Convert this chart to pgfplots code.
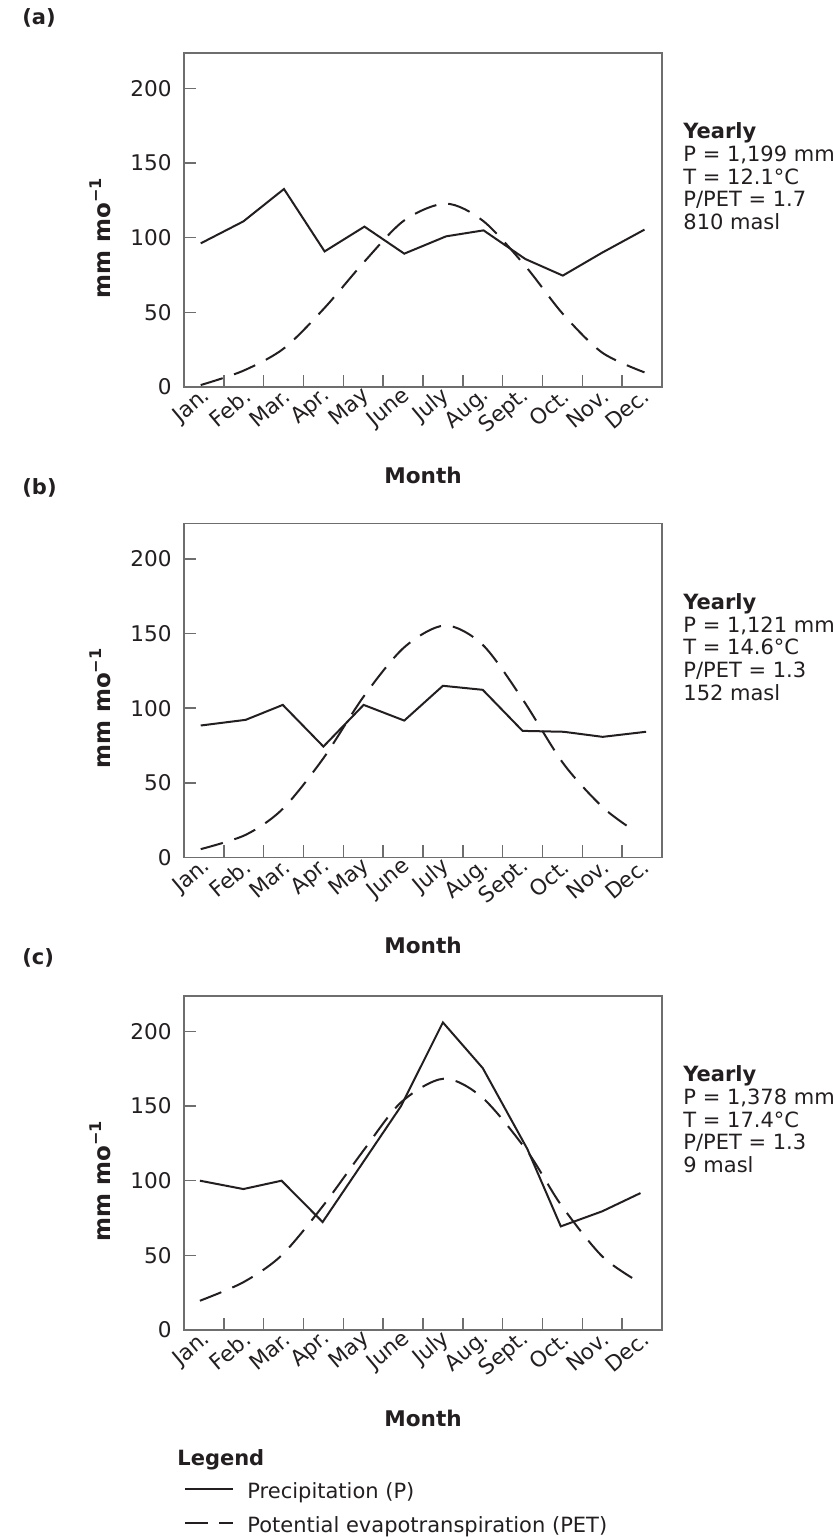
\documentclass[border=0pt]{standalone}
\usepackage{fontspec}
\setmainfont{DejaVu Sans}
\usepackage{pgfplots}
\pgfplotsset{compat=1.18}
\definecolor{ink}{HTML}{231F20}
\definecolor{frame}{HTML}{6E6E6E}

\newcommand{\txt}{\fontsize{10.5}{11.35}\selectfont}

\pgfplotsset{
  panel/.style={
    scale only axis, width=239pt, height=167pt,
    anchor=south west, clip mode=individual,
    xmin=0, xmax=12, ymin=0, ymax=223.7,
    xtick={0.5,1.5,2.5,3.5,4.5,5.5,6.5,7.5,8.5,9.5,10.5,11.5},
    xticklabels={Jan.,Feb.,Mar.,Apr.,May,June,July,Aug.,Sept.,Oct.,Nov.,Dec.},
    minor xtick={1,2,...,11},
    ytick={0,50,100,150,200},
    tick pos=left, tick align=inside,
    major tick length=6pt, minor tick length=6pt,
    every tick/.style={frame, line width=0.8pt},
    major x tick style={draw=none},
    axis line style={frame, line width=0.8pt},
    /pgf/number format/assume math mode=true,
    ticklabel style={font=\fontsize{10.8}{12}\selectfont, text=ink},
    xticklabel style={rotate=40, anchor=east, inner sep=0pt, yshift=-3.5pt, xshift=-0.5pt},
    yticklabel style={anchor=east, inner sep=0pt, xshift=-6pt},
    xlabel={Month},
    every axis x label/.style={at={(rel axis cs:0.5,0)}, anchor=center, yshift=-44pt,
      font=\bfseries\fontsize{10.8}{13}\selectfont, text=ink},
    ylabel={mm mo\textsuperscript{−1}},
    every axis y label/.style={at={(axis description cs:-0.1757,0.447)}, rotate=90, anchor=center,
      font=\bfseries\fontsize{11.5}{13}\selectfont, text=ink},
  },
  precip/.style={ink, line width=1pt, line join=miter},
  pet/.style={ink, line width=1pt, smooth, dash pattern=on 11.5pt off 6pt},
}

\begin{document}
\begin{tikzpicture}
\path[use as bounding box] (0,0) rectangle (416pt,769pt);

% (a)
\begin{axis}[panel, at={(92pt,575.5pt)}]
\addplot[precip] coordinates {
  (0.42,96.2) (1.49,110.9) (2.51,132.6) (3.53,90.8) (4.53,107.4) (5.53,89.3)
  (6.58,100.9) (7.52,104.9) (8.57,85.7) (9.51,74.6) (10.5,90) (11.56,105.4)};
\addplot[pet] coordinates {
  (0.42,1.3) (1.49,10.9) (2.51,25.9) (3.53,53) (4.53,84) (5.53,111.6)
  (6.58,122.8) (7.52,111) (8.57,81) (9.51,49) (10.5,23) (11.56,9.8)};
\node[anchor=north west, align=left, inner sep=0pt, font=\txt, text=ink]
  at (axis description cs:1.044,0.792)
  {\textbf{Yearly}\\P = 1,199 mm\\T = 12.1°C\\P/PET = 1.7\\810 masl};
\end{axis}

% (b)
\begin{axis}[panel, at={(92pt,340.25pt)}]
\addplot[precip] coordinates {
  (0.42,88.4) (1.55,92.2) (2.48,102.2) (3.5,74.3) (4.51,102.2) (5.53,91.7)
  (6.5,115) (7.5,112.3) (8.5,84.8) (9.53,84.2) (10.51,80.8) (11.6,84.2)};
\addplot[pet] coordinates {
  (0.42,5.6) (1.55,15.2) (2.48,32.6) (3.5,66.5) (4.51,107.8) (5.53,140.8)
  (6.55,155.4) (7.5,142.4) (8.5,106) (9.53,62.7) (10.51,33.7) (11.27,18.5)};
\node[anchor=north west, align=left, inner sep=0pt, font=\txt, text=ink]
  at (axis description cs:1.044,0.792)
  {\textbf{Yearly}\\P = 1,121 mm\\T = 14.6°C\\P/PET = 1.3\\152 masl};
\end{axis}

% (c)
\begin{axis}[panel, at={(92pt,104pt)},
  legend style={at={(rel axis cs:0,0)}, anchor=north west, yshift=-76.25pt,
    draw=none, fill=none, inner sep=0pt, row sep=6.5pt, column sep=6.5pt,
    nodes={inner sep=0pt, text height=8pt, text depth=2.5pt, font=\txt, text=ink}},
  legend cell align=left]
\addplot[precip, legend image code/.code={
    \path (0pt,0pt); \draw[ink, line width=1pt] (0pt,2.4pt) -- (24pt,2.4pt);}]
  coordinates {
  (0.40,100) (1.49,94.4) (2.45,100) (3.48,72.3) (4.5,112.5) (5.45,150)
  (6.5,206) (7.5,175.4) (8.62,121.2) (9.46,69.4) (10.5,79.5) (11.46,91.7)};
\addlegendentry{Precipitation (P)}
\addplot[pet, legend image code/.code={
    \path (0pt,0pt); \draw[ink, line width=1pt] (0pt,2.4pt) -- (13.3pt,2.4pt) (17pt,2.4pt) -- (24pt,2.4pt);}]
  coordinates {
  (0.40,19.6) (1.49,32) (2.45,50) (3.48,82.8) (4.5,120) (5.45,152.5)
  (6.52,168.3) (7.5,155.4) (8.62,119.6) (9.46,84) (10.5,49.3) (11.46,31.5)};
\addlegendentry{Potential evapotranspiration (PET)}
\node[anchor=north west, align=left, inner sep=0pt, font=\txt, text=ink]
  at (axis description cs:1.044,0.792)
  {\textbf{Yearly}\\P = 1,378 mm\\T = 17.4°C\\P/PET = 1.3\\9 masl};
\end{axis}

\node[anchor=west, inner sep=0pt, font=\bfseries\fontsize{10.5}{12}\selectfont, text=ink] at (11pt,760pt) {(a)};
\node[anchor=west, inner sep=0pt, font=\bfseries\fontsize{10.5}{12}\selectfont, text=ink] at (11pt,525pt) {(b)};
\node[anchor=west, inner sep=0pt, font=\bfseries\fontsize{10.5}{12}\selectfont, text=ink] at (11pt,290pt) {(c)};
\node[anchor=west, inner sep=0pt, font=\bfseries\fontsize{10.5}{12}\selectfont, text=ink] at (88.5pt,39pt) {Legend};
\end{tikzpicture}
\end{document}
